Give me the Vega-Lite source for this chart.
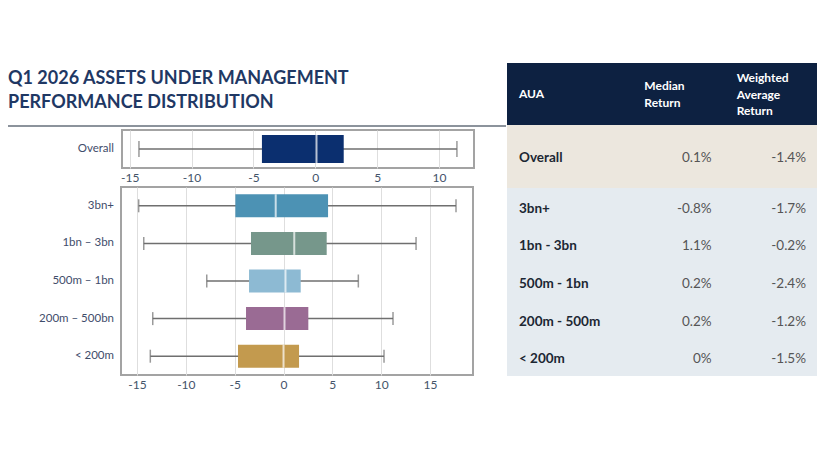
{
  "$schema": "https://vega.github.io/schema/vega-lite/v6.json",
  "background": "white",
  "padding": {"left": 7, "top": 63, "right": 5, "bottom": 5},
  "config": {
    "font": "Lato",
    "view": {"stroke": null},
    "axis": {"labelFont": "Lato"},
    "text": {"font": "Lato"}
  },
  "spacing": 0,
  "hconcat": [
    {
      "spacing": 2,
      "resolve": {"scale": {"x": "independent", "y": "independent"}},
      "vconcat": [
        {
          "width": 498,
          "height": 63,
          "layer": [
            {
              "data": {"values": [{"start": 0, "end": 1}]},
              "mark": {"type": "rule", "color": "#8c939c", "strokeWidth": 2},
              "encoding": {
                "x": {"field": "start", "type": "quantitative", "scale": {"domain": [0, 1]}, "axis": null},
                "x2": {"field": "end"},
                "y": {"datum": 0, "type": "quantitative", "scale": {"domain": [0, 1]}, "axis": null}
              }
            },
            {
              "data": {"values": [{"title": ["Q1 2026 ASSETS UNDER MANAGEMENT", "PERFORMANCE DISTRIBUTION"]}]},
              "mark": {"type": "text", "align": "left", "baseline": "middle", "fontSize": 18, "fontWeight": "bold", "color": "#1f3864", "lineHeight": 24.5, "dy": -16},
              "encoding": {
                "x": {"datum": 0, "type": "quantitative"},
                "text": {"field": "title"}
              }
            }
          ]
        },
        {
          "spacing": 0,
          "resolve": {"scale": {"x": "independent", "y": "independent"}},
          "data": {"values": [
            {"group": "Overall", "min": -14.25, "q1": -4.31, "median": 0.1, "q3": 2.3, "max": 11.45}
          ]},
          "hconcat": [
            {
              "width": 111,
              "height": 38,
              "mark": {"type": "text", "align": "right", "baseline": "middle", "dx": -5, "fontSize": 11.5, "color": "#3f4d6b"},
              "encoding": {
                "x": {"datum": 1, "type": "quantitative", "scale": {"domain": [0, 1]}, "axis": null},
                "y": {"field": "group", "type": "nominal", "sort": null, "axis": null, "scale": {"paddingInner": 0, "paddingOuter": 0}},
                "text": {"field": "group"}
              }
            },
            {
              "width": 352,
              "height": 38,
              "view": {"stroke": "#a3a3a3", "strokeWidth": 2},
              "encoding": {
                "y": {"field": "group", "type": "nominal", "sort": null, "axis": null, "scale": {"paddingInner": 0, "paddingOuter": 0}}
              },
              "layer": [
                {
                  "mark": {"type": "rule", "color": "#6f6f6f", "strokeWidth": 1.5},
                  "encoding": {
                    "x": {
                      "field": "min", "type": "quantitative",
                      "scale": {"domain": [-15.62, 12.83], "nice": false, "zero": false},
                      "axis": {"values": [-15, -10, -5, 0, 5, 10], "labelExpr": "datum.value", "grid": true, "gridColor": "#dedede", "ticks": false, "domain": false, "labelPadding": 4, "labelFontSize": 12, "labelColor": "#44546a", "title": null, "labelFlush": false}
                    },
                    "x2": {"field": "max"}
                  }
                },
                {"mark": {"type": "tick", "color": "#6f6f6f", "thickness": 1.5, "size": 16}, "encoding": {"x": {"field": "min", "type": "quantitative"}}},
                {"mark": {"type": "tick", "color": "#6f6f6f", "thickness": 1.5, "size": 16}, "encoding": {"x": {"field": "max", "type": "quantitative"}}},
                {
                  "mark": {"type": "bar", "size": 28},
                  "encoding": {
                    "x": {"field": "q1", "type": "quantitative"},
                    "x2": {"field": "q3"},
                    "color": {"field": "group", "type": "nominal", "legend": null,
                      "scale": {"domain": ["Overall", "3bn+", "1bn – 3bn", "500m – 1bn", "200m – 500bn", "< 200m"], "range": ["#0b2f6f", "#4c92b4", "#76978b", "#8dbad3", "#9a6b94", "#c39a4e"]}}
                  }
                },
                {"mark": {"type": "tick", "color": "white", "thickness": 2, "size": 28}, "encoding": {"x": {"field": "median", "type": "quantitative"}}}
              ]
            }
          ]
        },
        {
          "spacing": 0,
          "resolve": {"scale": {"x": "independent", "y": "independent"}},
          "data": {"values": [
            {"group": "3bn+", "min": -14.83, "q1": -4.93, "median": -0.8, "q3": 4.56, "max": 17.66},
            {"group": "1bn – 3bn", "min": -14.31, "q1": -3.33, "median": 1.1, "q3": 4.42, "max": 13.57},
            {"group": "500m – 1bn", "min": -7.86, "q1": -3.53, "median": 0.2, "q3": 1.76, "max": 7.66},
            {"group": "200m – 500bn", "min": -13.39, "q1": -3.84, "median": 0.1, "q3": 2.54, "max": 11.21},
            {"group": "< 200m", "min": -13.64, "q1": -4.66, "median": 0.0, "q3": 1.59, "max": 10.29}
          ]},
          "hconcat": [
            {
              "width": 112,
              "height": 188,
              "mark": {"type": "text", "align": "right", "baseline": "middle", "dx": -6, "fontSize": 11.5, "color": "#3f4d6b"},
              "encoding": {
                "x": {"datum": 1, "type": "quantitative", "scale": {"domain": [0, 1]}, "axis": null},
                "y": {"field": "group", "type": "nominal", "sort": null, "axis": null, "scale": {"paddingInner": 0, "paddingOuter": 0}},
                "text": {"field": "group"}
              }
            },
            {
              "width": 352,
              "height": 188,
              "view": {"stroke": "#a3a3a3", "strokeWidth": 2},
              "encoding": {
                "y": {"field": "group", "type": "nominal", "sort": null, "axis": null, "scale": {"paddingInner": 0, "paddingOuter": 0}}
              },
              "layer": [
                {
                  "mark": {"type": "rule", "color": "#6f6f6f", "strokeWidth": 1.5},
                  "encoding": {
                    "x": {
                      "field": "min", "type": "quantitative",
                      "scale": {"domain": [-16.64, 19.4], "nice": false, "zero": false},
                      "axis": {"values": [-15, -10, -5, 0, 5, 10, 15], "labelExpr": "datum.value", "grid": true, "gridColor": "#dedede", "ticks": false, "domain": false, "labelPadding": 4, "labelFontSize": 12, "labelColor": "#44546a", "title": null, "labelFlush": false}
                    },
                    "x2": {"field": "max"}
                  }
                },
                {"mark": {"type": "tick", "color": "#6f6f6f", "thickness": 1.5, "size": 13}, "encoding": {"x": {"field": "min", "type": "quantitative"}}},
                {"mark": {"type": "tick", "color": "#6f6f6f", "thickness": 1.5, "size": 13}, "encoding": {"x": {"field": "max", "type": "quantitative"}}},
                {
                  "mark": {"type": "bar", "size": 23},
                  "encoding": {
                    "x": {"field": "q1", "type": "quantitative"},
                    "x2": {"field": "q3"},
                    "color": {"field": "group", "type": "nominal", "legend": null,
                      "scale": {"domain": ["Overall", "3bn+", "1bn – 3bn", "500m – 1bn", "200m – 500bn", "< 200m"], "range": ["#0b2f6f", "#4c92b4", "#76978b", "#8dbad3", "#9a6b94", "#c39a4e"]}}
                  }
                },
                {"mark": {"type": "tick", "color": "white", "thickness": 2, "size": 23}, "encoding": {"x": {"field": "median", "type": "quantitative"}}}
              ]
            }
          ]
        }
      ]
    },
    {
      "spacing": 0,
      "resolve": {"scale": {"x": "independent", "y": "independent"}},
      "vconcat": [
        {
          "width": 310,
          "height": 62,
          "view": {"fill": "#0d2141", "stroke": null},
          "data": {"values": [
            {"col": "AUA", "lines": ["AUA"]},
            {"col": "Median Return", "lines": ["Median", "Return"]},
            {"col": "Weighted Average Return", "lines": ["Weighted", "Average", "Return"]}
          ]},
          "encoding": {
            "x": {"field": "col", "type": "nominal", "bandPosition": 0, "axis": null,
              "scale": {"type": "band", "domain": ["AUA", "Median Return", "Weighted Average Return"], "paddingInner": 0, "paddingOuter": 0}},
            "text": {"field": "lines"}
          },
          "layer": [
            {"transform": [{"filter": "datum.col === 'AUA'"}], "mark": {"type": "text", "align": "left", "baseline": "middle", "dx": 12, "fontSize": 12, "fontWeight": "bold", "color": "white", "lineHeight": 16.7}},
            {"transform": [{"filter": "datum.col === 'Median Return'"}], "mark": {"type": "text", "align": "left", "baseline": "middle", "dx": 34, "dy": -8, "fontSize": 12, "fontWeight": "bold", "color": "white", "lineHeight": 16.7}},
            {"transform": [{"filter": "datum.col === 'Weighted Average Return'"}], "mark": {"type": "text", "align": "left", "baseline": "middle", "dx": 23, "dy": -16, "fontSize": 12, "fontWeight": "bold", "color": "white", "lineHeight": 16.7}}
          ]
        },
        {
          "width": 310,
          "height": 63,
          "view": {"fill": "#ece7de", "stroke": null},
          "data": {"values": [
            {"label": "Overall", "median": "0.1%", "weighted": "-1.4%"}
          ]},
          "encoding": {
            "y": {"field": "label", "type": "nominal", "sort": null, "axis": null, "scale": {"paddingInner": 0, "paddingOuter": 0}}
          },
          "layer": [
            {"mark": {"type": "text", "align": "left", "baseline": "middle", "dx": 12, "dy": 1.5, "fontSize": 13.5, "fontWeight": "bold", "color": "#1c2733"},
             "encoding": {"x": {"datum": "AUA", "type": "nominal", "bandPosition": 0, "axis": null, "scale": {"type": "band", "domain": ["AUA", "Median Return", "Weighted Average Return"], "paddingInner": 0, "paddingOuter": 0}}, "text": {"field": "label"}}},
            {"mark": {"type": "text", "align": "right", "baseline": "middle", "dx": -2, "dy": 1.5, "fontSize": 13.5, "color": "#555555"},
             "encoding": {"x": {"datum": "Median Return", "type": "nominal", "bandPosition": 1}, "text": {"field": "median"}}},
            {"mark": {"type": "text", "align": "right", "baseline": "middle", "dx": -11, "dy": 1.5, "fontSize": 13.5, "color": "#555555"},
             "encoding": {"x": {"datum": "Weighted Average Return", "type": "nominal", "bandPosition": 1}, "text": {"field": "weighted"}}}
          ]
        },
        {
          "width": 310,
          "height": 188,
          "view": {"fill": "#e5ebf0", "stroke": null},
          "data": {"values": [
            {"label": "3bn+", "median": "-0.8%", "weighted": "-1.7%"},
            {"label": "1bn - 3bn", "median": "1.1%", "weighted": "-0.2%"},
            {"label": "500m - 1bn", "median": "0.2%", "weighted": "-2.4%"},
            {"label": "200m - 500m", "median": "0.2%", "weighted": "-1.2%"},
            {"label": "< 200m", "median": "0%", "weighted": "-1.5%"}
          ]},
          "encoding": {
            "y": {"field": "label", "type": "nominal", "sort": null, "axis": null, "scale": {"paddingInner": 0, "paddingOuter": 0}}
          },
          "layer": [
            {"mark": {"type": "text", "align": "left", "baseline": "middle", "dx": 12, "dy": 2, "fontSize": 13.5, "fontWeight": "bold", "color": "#1c2733"},
             "encoding": {"x": {"datum": "AUA", "type": "nominal", "bandPosition": 0, "axis": null, "scale": {"type": "band", "domain": ["AUA", "Median Return", "Weighted Average Return"], "paddingInner": 0, "paddingOuter": 0}}, "text": {"field": "label"}}},
            {"mark": {"type": "text", "align": "right", "baseline": "middle", "dx": -2, "dy": 2, "fontSize": 13.5, "color": "#555555"},
             "encoding": {"x": {"datum": "Median Return", "type": "nominal", "bandPosition": 1}, "text": {"field": "median"}}},
            {"mark": {"type": "text", "align": "right", "baseline": "middle", "dx": -11, "dy": 2, "fontSize": 13.5, "color": "#555555"},
             "encoding": {"x": {"datum": "Weighted Average Return", "type": "nominal", "bandPosition": 1}, "text": {"field": "weighted"}}}
          ]
        }
      ]
    }
  ]
}
